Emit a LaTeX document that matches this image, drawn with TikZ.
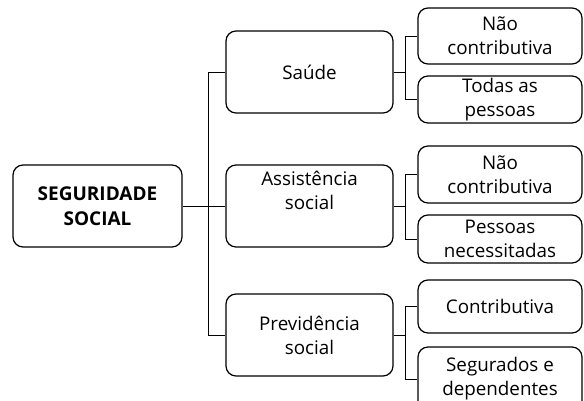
\documentclass[tikz,border=0pt]{standalone}
\usepackage{fontspec}
\setmainfont{Open Sans}
\begin{document}
\begin{tikzpicture}[x=1pt,y=-1pt,
  box/.style={draw, line width=1.2pt, rounded corners=10pt, align=center, inner sep=0pt,
    font=\fontsize{18.8}{24}\selectfont},
  conn/.style={line width=0.9pt}]
\useasboundingbox (0,0) rectangle (584,401);
\node[box, minimum width=169pt, minimum height=82pt, font=\fontsize{19}{25}\selectfont\bfseries] (root) at (97.5,206) {SEGURIDADE\\SOCIAL};
\node[box, minimum width=167pt, minimum height=82pt] (sau) at (309.5,72) {Saúde};
\node[box, minimum width=167pt, minimum height=82pt] (ass) at (309.5,206) {Assistência\\social\\\strut};
\node[box, minimum width=167pt, minimum height=82pt] (prev) at (309.5,335) {Previdência\\social};
\node[box, minimum width=164pt, minimum height=56pt] (s1) at (500,36) {Não\\contributiva};
\node[box, minimum width=164pt, minimum height=47pt] (s2) at (500,99.5) {Todas as\\pessoas};
\node[box, minimum width=164pt, minimum height=57pt] (a1) at (500,174.5) {Não\\contributiva};
\node[box, minimum width=164pt, minimum height=48pt] (a2) at (500,239) {Pessoas\\necessitadas};
\node[box, minimum width=164pt, minimum height=53pt] (p1) at (500,306.5) {Contributiva};
\node[box, minimum width=164pt, minimum height=64pt] (p2) at (500,379) {Segurados e\\dependentes};
\coordinate (trunk) at (208,0);
\coordinate (br) at (405,0);
\draw[conn] (root.east) -- (root.east -| trunk);
\draw[conn] (sau.west) -- (sau.west -| trunk) -- (prev.west -| trunk) -- (prev.west);
\draw[conn] (ass.west) -- (ass.west -| trunk);
\draw[conn] (sau.east) -- (sau.east -| br);
\draw[conn] (s1.west) -- (s1.west -| br) -- (s2.west -| br) -- (s2.west);
\draw[conn] (ass.east) -- (ass.east -| br);
\draw[conn] (a1.west) -- (a1.west -| br) -- (a2.west -| br) -- (a2.west);
\draw[conn] (prev.east) -- (prev.east -| br);
\draw[conn] (p1.west) -- (p1.west -| br) -- (p2.west -| br) -- (p2.west);
\end{tikzpicture}
\end{document}
